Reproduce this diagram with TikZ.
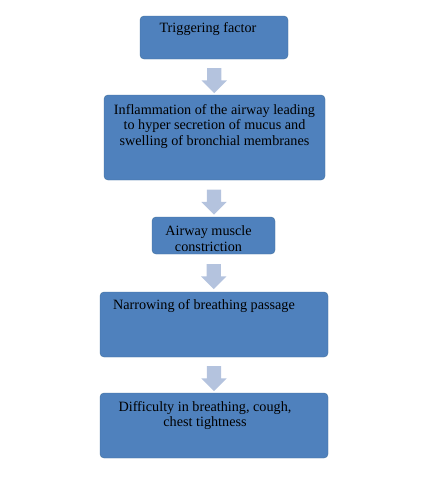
\documentclass[tikz,border=0pt]{standalone}
\usepackage{fontspec}
\setmainfont{Liberation Serif}
\usetikzlibrary{shapes.arrows}
\usetikzlibrary{calc}
\definecolor{boxblue}{HTML}{4F81BD}
\definecolor{boxedge}{HTML}{41719C}
\definecolor{arrowblue}{HTML}{B4C3DE}
\tikzset{
  stepbox/.style={draw=boxedge, fill=boxblue, rounded corners=4pt, inner sep=0pt},
  boxtext/.style={anchor=north, inner sep=0pt, align=center, yshift=-6pt,
    font=\fontsize{14.2}{15.8}\selectfont},
  downarrow/.style={single arrow, shape border rotate=270, fill=arrowblue, draw=none,
    inner sep=7pt, minimum height=25pt,
    single arrow head extend=5.5pt, single arrow tip angle=90}
}
\begin{document}
\begin{tikzpicture}[x=1pt, y=-1pt]
		\useasboundingbox (0,0) rectangle (440,480);
		% boxes
		\node[stepbox, minimum width=148pt, minimum height=43pt,
			label={[boxtext, xshift=-6pt]north:Triggering factor}] (trig) at (214,37.5) {};
		\node[stepbox, minimum width=221pt, minimum height=85pt,
			label={[boxtext, yshift=-3pt]north:Inflammation of the airway leading\\to hyper secretion of mucus and\\swelling of bronchial membranes}] (infl) at (214.5,137.5) {};
		\node[stepbox, minimum width=123pt, minimum height=37pt,
			label={[boxtext, xshift=-5pt, yshift=-3pt]north:Airway muscle\\constriction}] (musc) at (213.5,235.5) {};
		\node[stepbox, minimum width=228pt, minimum height=65pt,
			label={[boxtext, xshift=-10pt, yshift=-1pt]north:Narrowing of breathing passage}] (narr) at (214,324.5) {};
		\node[stepbox, minimum width=228pt, minimum height=65pt,
			label={[boxtext, xshift=-9pt, yshift=-2pt]north:Difficulty in breathing, cough,\\chest tightness}] (diff) at (214,425.5) {};
		%
		% block arrows
		\node[downarrow] (a1) at ($(trig.south)!0.5!(infl.north)$) {};
		\node[downarrow] (a2) at ($(infl.south)!0.5!(musc.north)$) {};
		\node[downarrow] (a3) at ($(musc.south)!0.5!(narr.north)$) {};
		\node[downarrow] (a4) at ($(narr.south)!0.5!(diff.north)$) {};
	\end{tikzpicture}
\end{document}
